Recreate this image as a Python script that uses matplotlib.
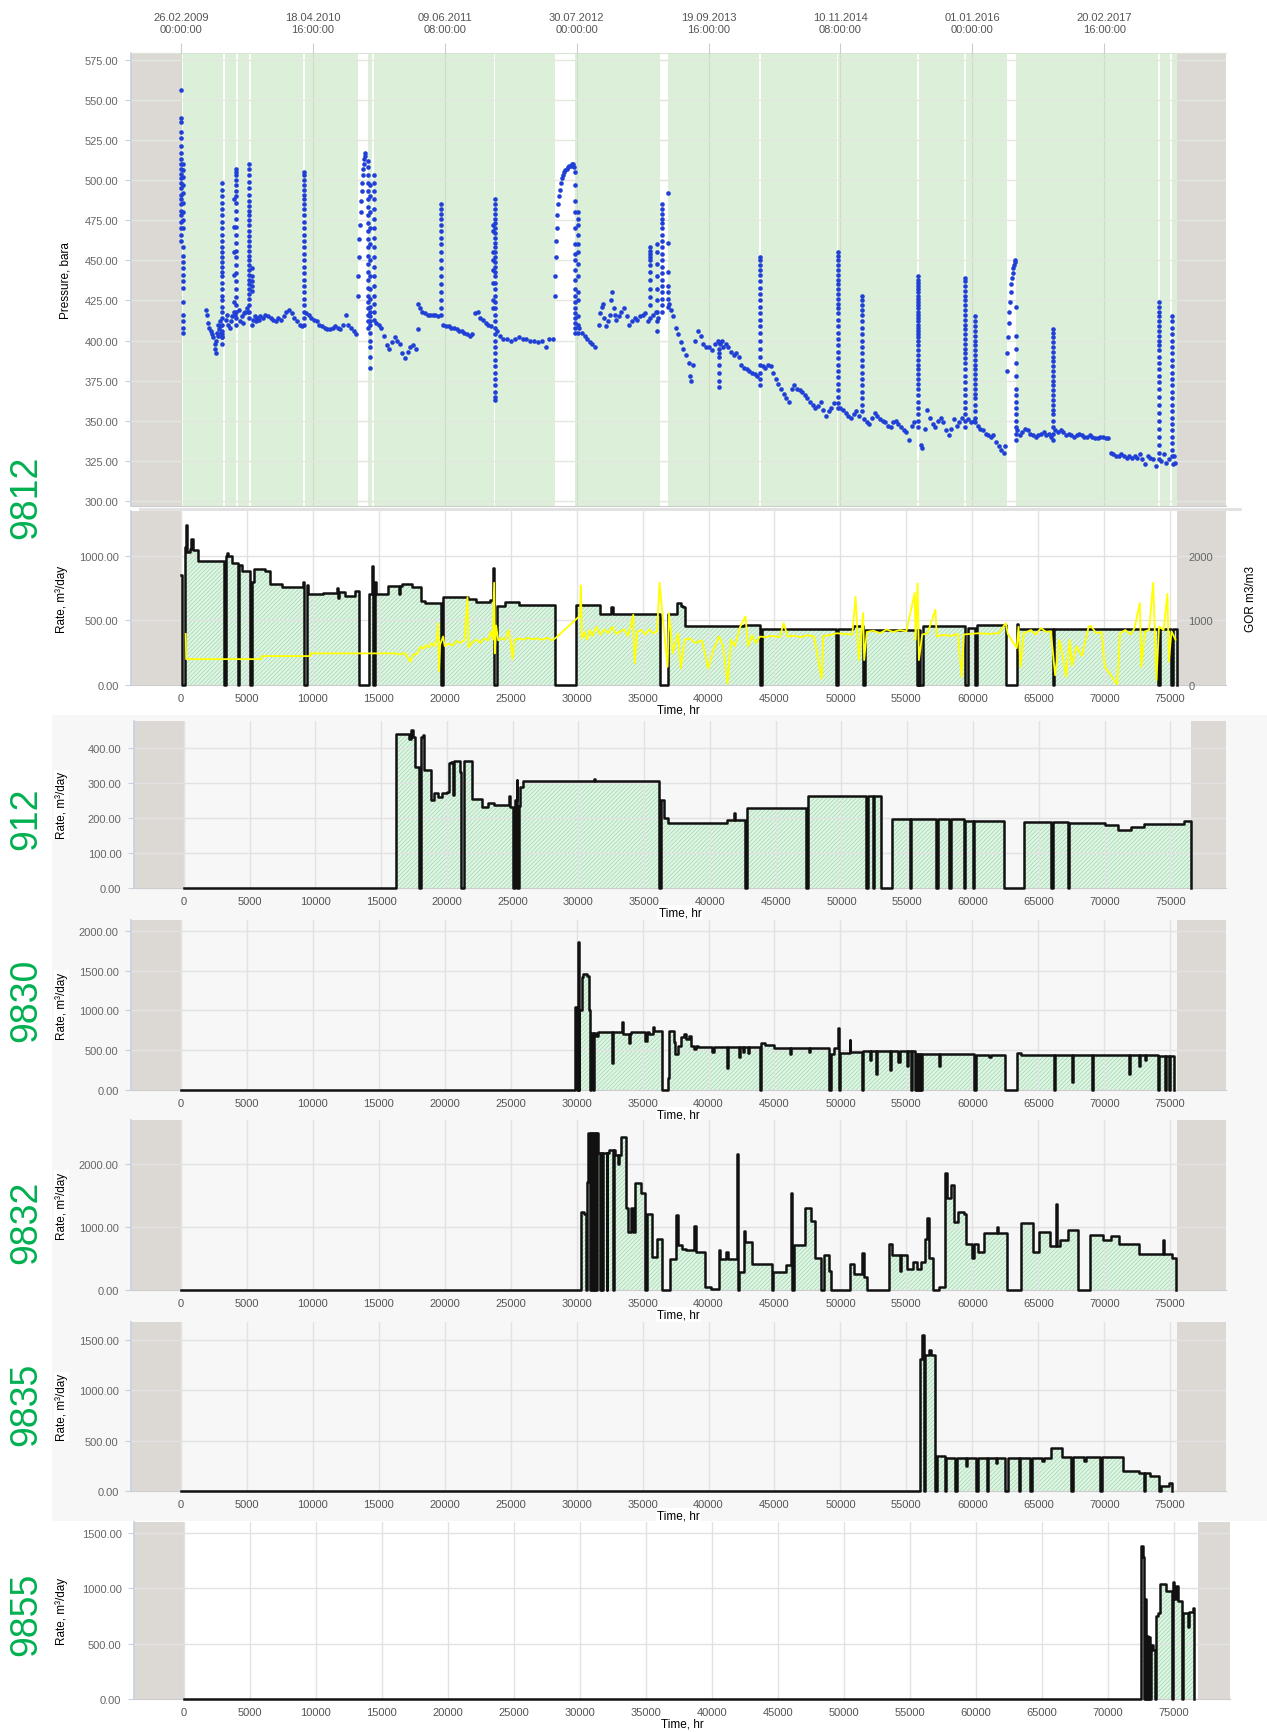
import numpy as np
import matplotlib
matplotlib.use('Agg')
import matplotlib.pyplot as plt
from matplotlib.patches import Rectangle
from matplotlib.lines import Line2D

# ---------------- DATA ----------------
date_tick_hr = [0, 10000, 20000, 30000, 40000, 50000, 60000, 70000]
date_tick_labels = ["26.02.2009\n00:00:00", "18.04.2010\n16:00:00", "09.06.2011\n08:00:00",
                    "30.07.2012\n00:00:00", "19.09.2013\n16:00:00", "10.11.2014\n08:00:00",
                    "01.01.2016\n00:00:00", "20.02.2017\n16:00:00"]

# shut-in periods of well 9812 (white gaps in the pressure panel), hr
shutin_hr = [(0, 180), (3200, 3330), (4200, 4320), (5180, 5300), (9280, 9420),
             (13450, 14170), (14520, 14640), (23720, 23850), (28370, 29850),
             (36330, 36950), (43850, 43960), (49740, 49850), (55830, 55960),
             (59400, 59520), (62600, 63300), (74080, 74200), (75000, 75110)]

# flowing pressure, (hr, bara)
pressure_flow = [
    (1880, 419), (1950, 416), (2050, 411), (2150, 408), (2250, 406), (2350, 404), (2450, 402),
    (2550, 398), (2600, 395), (2650, 392), (2700, 400), (2750, 405), (2800, 410), (2850, 403),
    (2900, 407), (2950, 412), (3000, 409), (3050, 405), (3100, 402), (3150, 404),
    (3400, 413), (3500, 416), (3600, 410), (3700, 408), (3800, 412), (3900, 415), (4000, 418), (4100, 416),
    (4400, 419), (4500, 412), (4600, 415), (4700, 411), (4800, 417), (4900, 418), (5000, 420), (5100, 418),
    (5400, 410), (5500, 413), (5600, 415), (5700, 412), (5800, 414), (5900, 413), (6000, 415), (6200, 414),
    (6400, 416), (6600, 415), (6800, 414), (7000, 413), (7200, 412), (7400, 414), (7600, 413), (7800, 415),
    (8000, 418), (8200, 419), (8400, 417), (8600, 414), (8800, 412), (9000, 410), (9200, 409),
    (9500, 417), (9700, 416), (9900, 414), (10100, 413), (10300, 412), (10500, 410), (10700, 409),
    (10900, 408), (11100, 407), (11300, 407), (11500, 408), (11700, 409), (11900, 408), (12100, 407),
    (12300, 410), (12500, 416), (12700, 410), (12900, 408), (13100, 406), (13300, 404),
    (14800, 411), (15000, 410), (15200, 408), (15400, 403), (15600, 397), (15800, 395), (16000, 399),
    (16200, 402), (16400, 400), (16600, 398), (16800, 392), (17000, 389), (17200, 393), (17400, 396),
    (17600, 397), (17800, 395),
    (17950, 407), (18000, 423), (18100, 420), (18300, 418), (18500, 417), (18700, 416), (18900, 416),
    (19100, 416), (19300, 416), (19500, 415),
    (19900, 410), (20100, 409), (20300, 409), (20500, 408), (20700, 408), (20900, 407), (21100, 406),
    (21300, 406), (21500, 405), (21700, 404), (21900, 403), (22100, 404), (22300, 417), (22500, 418),
    (22700, 414), (22900, 413), (23100, 411), (23300, 410), (23500, 409),
    (24000, 406), (24200, 403), (24400, 401), (24700, 401), (25000, 400), (25300, 401), (25600, 402),
    (25900, 401), (26200, 401), (26500, 400), (26800, 400), (27100, 399), (27400, 400), (27700, 396),
    (27900, 401), (28200, 401),
    (30200, 408), (30400, 405), (30600, 403), (30800, 401), (31000, 399), (31200, 398), (31400, 396),
    (31700, 410), (31800, 417), (31900, 421), (32000, 423), (32100, 414), (32200, 409), (32400, 412),
    (32500, 416), (32600, 425), (32700, 430), (32800, 420), (32900, 416), (33000, 413), (33200, 415),
    (33400, 418), (33600, 420), (33800, 415), (34000, 410), (34200, 412), (34400, 414), (34600, 413),
    (34800, 415), (35000, 416), (35200, 417), (35400, 412), (35600, 414), (35800, 416), (36000, 418),
    (36200, 414),
    (37000, 423), (37150, 419), (37300, 415), (37500, 408), (37700, 404), (37900, 399), (38100, 395),
    (38300, 391), (38500, 386), (38600, 378), (38700, 375), (38800, 385), (39000, 400), (39200, 406),
    (39400, 403), (39600, 398), (39800, 396), (40000, 396), (40300, 394), (40500, 398), (40700, 400),
    (40800, 392), (40900, 398), (41000, 400), (41100, 396), (41300, 398), (41500, 396), (41700, 393),
    (41900, 391), (42100, 392), (42300, 390), (42500, 385), (42700, 383), (42900, 382), (43100, 381),
    (43300, 380), (43500, 379), (43700, 378),
    (44100, 384), (44300, 383), (44500, 385), (44700, 384), (44900, 380), (45100, 376), (45300, 373),
    (45500, 370), (45700, 367), (45900, 364), (46100, 362), (46300, 370), (46500, 372), (46700, 370),
    (46900, 369), (47100, 368), (47300, 366), (47500, 364), (47700, 362), (47900, 360), (48100, 358),
    (48300, 359), (48500, 362), (48700, 357), (48900, 353), (49100, 356), (49300, 358), (49500, 361),
    (50000, 358), (50200, 357), (50400, 355), (50600, 353), (50800, 352), (51000, 354), (51200, 356),
    (51400, 353), (51800, 351), (52000, 349), (52200, 348), (52400, 352), (52600, 355), (52800, 353),
    (53000, 351), (53200, 350), (53400, 349), (53600, 347), (53800, 346), (54000, 349), (54200, 350),
    (54400, 348), (54600, 346), (54800, 344), (55000, 343), (55200, 338), (55400, 347), (55600, 349),
    (56100, 335), (56200, 333), (56400, 345), (56600, 357), (56800, 352), (57000, 348), (57200, 346),
    (57400, 350), (57600, 352), (57800, 349), (58000, 344), (58200, 341), (58400, 345), (58600, 351),
    (58800, 347), (59000, 349), (59200, 352),
    (59700, 351), (59900, 349), (60100, 350), (60400, 347), (60600, 345), (60800, 344), (61000, 342),
    (61200, 341), (61400, 340), (61600, 341), (61800, 337), (62000, 334), (62200, 332), (62400, 330),
    (62500, 334),
    (63400, 344), (63600, 341), (63800, 343), (64000, 345), (64200, 344), (64400, 342), (64600, 341),
    (64800, 340), (65000, 341), (65200, 342), (65400, 343), (65600, 341), (65800, 342), (66000, 340),
    (66300, 344), (66500, 343), (66700, 344), (66900, 343), (67100, 341), (67300, 342), (67500, 341),
    (67700, 340), (67900, 341), (68100, 342), (68300, 341), (68500, 340), (68700, 340), (68900, 341),
    (69100, 340), (69300, 339), (69500, 339), (69700, 340), (69900, 340), (70100, 339), (70300, 339),
    (70500, 330), (70700, 329), (70900, 328), (71100, 328), (71300, 329), (71500, 328), (71700, 327),
    (71900, 328), (72100, 327), (72300, 328), (72500, 327), (72700, 329), (72900, 326), (73100, 323),
    (73300, 328), (73500, 327), (73700, 326), (73900, 322),
    (74300, 325), (74500, 329), (74700, 324), (74900, 326), (75200, 323), (75300, 328), (75400, 324)]

# build-up / drawdown streaks: one time (hr) and the pressures read along it (bara)
streak_hr = [30, 180, 3150, 4050, 4200, 5200, 5380, 9300, 14150, 14350, 14650, 19700, 23650, 23800,
             29900, 30100, 35600, 36100, 36450, 36950, 40770, 43900, 49780, 51600, 55900, 59450,
             60200, 63300, 66100, 74130, 75100]
streak_bar = [
    [556, 539, 536, 530, 526, 521, 517, 513, 510, 507, 504, 501, 498, 495, 491, 488, 485, 481, 478, 474, 470, 466, 462],
    [510, 506, 502, 497, 492, 486, 480, 475, 470, 458, 453, 449, 445, 441, 437, 433, 424, 416, 412, 408, 405],
    [498, 494, 490, 486, 482, 478, 474, 470, 466, 462, 458, 455, 452, 449, 446, 443, 440, 436, 432, 428, 425, 421, 418, 414, 410, 406, 402, 398],
    [488, 471, 455, 441, 424],
    [507, 505, 503, 500, 497, 493, 490, 486, 481, 476, 471, 466, 461, 456, 452, 447, 442, 437, 432, 427, 422, 418, 414, 410],
    [510, 507, 503, 499, 495, 491, 487, 484, 481, 478, 475, 472, 468, 465, 462, 459, 456, 453, 450, 447, 444, 441, 438, 435, 432, 429, 426, 422, 418, 414],
    [445, 440, 437, 434, 431],
    [505, 503, 500, 497, 494, 491, 488, 485, 482, 478, 474, 470, 466, 462, 458, 454, 450, 446, 442, 438, 434, 430, 426, 422, 418, 414, 410],
    [512, 508, 503, 498, 493, 488, 483, 478, 473, 468, 463, 458, 453, 448, 443, 438, 433, 428, 424, 420, 416, 412, 408],
    [497, 490, 480, 470, 460, 450, 440, 432, 426, 421, 418, 415, 412, 410, 405, 400, 396, 390, 383],
    [503, 498, 493, 488, 482, 476, 470, 464, 458, 452, 446, 440, 434, 428, 423, 418, 413],
    [485, 482, 479, 476, 472, 468, 464, 460, 455, 450, 445, 440, 435, 430, 425, 420, 416],
    [472, 468, 455, 450, 444, 436, 425, 420],
    [488, 485, 482, 479, 476, 473, 470, 467, 464, 461, 458, 455, 452, 449, 446, 443, 440, 436, 432, 428, 424, 420, 416, 412, 408, 404, 400, 396, 392, 388, 384, 380, 376, 372, 368, 365, 363],
    [505, 497, 487, 480, 470, 460, 454, 450, 444, 438, 432, 428, 424, 420, 417, 414, 411, 408, 405],
    [480, 476, 472, 466, 460, 455, 448, 440, 430, 425, 415, 410, 405],
    [458, 456, 454, 452, 450, 447, 443, 438, 432, 427, 422],
    [460, 455, 448, 440, 432, 425, 418, 412, 406],
    [485, 482, 479, 476, 473, 470, 466, 462, 458, 454, 450, 446, 442, 438, 434, 430, 426, 422, 418],
    [492, 461, 443, 434, 430, 426, 421],
    [399, 395, 390, 385, 380, 375, 371],
    [452, 450, 447, 444, 441, 437, 433, 429, 425, 421, 417, 413, 409, 405, 400, 395, 390, 385, 380, 376, 372],
    [455, 453, 450, 447, 444, 441, 438, 435, 432, 429, 426, 423, 420, 417, 413, 409, 405, 401, 397, 393, 389, 385, 381, 377, 373, 369, 365, 361, 358],
    [428, 425, 422, 419, 416, 412, 408, 404, 400, 396, 392, 388, 384, 380, 376, 372, 368, 364, 360, 356],
    [440, 438, 436, 434, 432, 430, 428, 426, 424, 422, 420, 418, 416, 414, 412, 410, 408, 406, 404, 402, 400, 397, 394, 391, 388, 385, 382, 379, 376, 373, 370, 366, 362, 358, 354, 350, 346],
    [439, 437, 434, 431, 428, 425, 422, 419, 416, 413, 410, 407, 404, 401, 398, 395, 392, 389, 386, 382, 378, 374, 370, 366, 362, 358, 354, 350, 346],
    [415, 412, 409, 406, 403, 400, 397, 394, 391, 388, 385, 382, 379, 376, 373, 370, 367, 364, 360, 356, 352, 349],
    [421, 403, 395, 386, 378, 370, 366, 362, 358, 354, 350, 346, 342, 338],
    [407, 405, 402, 399, 396, 393, 390, 387, 384, 381, 378, 375, 372, 369, 366, 363, 360, 357, 354, 350, 346, 342, 338],
    [424, 421, 418, 415, 412, 409, 406, 403, 400, 397, 394, 390, 386, 382, 378, 374, 370, 365, 360, 355, 350, 345, 340, 335, 330, 326],
    [415, 412, 408, 404, 400, 396, 392, 388, 384, 380, 376, 372, 368, 364, 360, 356, 352, 348, 344, 340, 336, 332, 328]]

# curved build-ups during long shut-ins, (hr, bara)
buildup_curve = [
    (13420, 428), (13460, 440), (13500, 452), (13540, 463), (13580, 472), (13620, 480), (13660, 487),
    (13700, 493), (13740, 498), (13780, 503), (13820, 507), (13860, 510), (13900, 513), (13940, 515),
    (13980, 517),
    (28350, 428), (28380, 440), (28420, 452), (28460, 462), (28500, 470), (28550, 478), (28600, 485),
    (28650, 490), (28720, 494), (28800, 498), (28880, 501), (28960, 503), (29050, 505), (29150, 506),
    (29250, 507), (29350, 508), (29450, 509), (29550, 509), (29650, 510), (29750, 510), (29830, 508),
    (62600, 381), (62650, 392), (62700, 402), (62750, 411), (62800, 418), (62850, 424), (62900, 430),
    (62950, 435), (63000, 439), (63050, 442), (63100, 445), (63150, 447), (63200, 449), (63250, 450)]

# oil rates, step breakpoints (hr, m3/day)
rate_9812 = [(0, 850), (100, 0), (300, 1070), (400, 1240), (500, 1030), (700, 1050), (800, 1130), (900, 1040),
             (1300, 960), (3250, 0), (3400, 1000), (3500, 1020), (3600, 1000), (3870, 940), (4300, 0),
             (4430, 930), (4640, 880), (5230, 0), (5360, 800), (5540, 900), (6350, 880), (6720, 780),
             (7700, 760), (9260, 800), (9350, 0), (9570, 770), (9660, 700), (10740, 715), (11830, 750),
             (11950, 670), (12000, 720), (12450, 685), (13220, 730), (13470, 690), (13530, 0), (14240, 700),
             (14480, 920), (14560, 0), (14700, 800), (14830, 700), (15700, 768), (16560, 700), (16650, 768),
             (16780, 781), (17550, 760), (18170, 650), (18480, 632), (19720, 0), (19880, 684), (21730, 668),
             (22350, 645), (23440, 660), (23650, 908), (23750, 0), (24000, 611), (24610, 645), (25600, 616),
             (28390, 0), (29940, 616), (31800, 546), (32600, 600), (32750, 546), (36290, 0), (36950, 546),
             (37640, 637), (37950, 610), (38050, 600), (38200, 454), (42700, 462), (43890, 0), (44050, 436),
             (49680, 0), (49840, 433), (50930, 455), (51720, 0), (51880, 423), (55790, 0), (55850, 423),
             (55900, 0), (55950, 423), (56000, 0), (56260, 454), (59470, 0), (59700, 444), (60170, 0),
             (60330, 460), (62520, 0), (63370, 475), (63460, 436), (66120, 0), (66200, 431), (74100, 0),
             (74250, 431), (75030, 0), (75250, 431), (75490, 0)]

# gas-oil ratio of 9812, (hr, m3/m3)
gor_9812 = [(370, 790), (400, 400), (6100, 400), (6150, 447), (9800, 447), (9850, 489), (16300, 489),
            (16600, 470), (16900, 495), (17100, 460), (17400, 359), (17600, 470), (17900, 480), (18170, 593),
            (18400, 560), (18600, 620), (18800, 580), (19000, 650), (19200, 600), (19400, 700), (19500, 957),
            (19570, 218), (19650, 620), (19880, 749), (20000, 600), (20300, 640), (20600, 610), (20900, 680),
            (21200, 650), (21500, 700), (21730, 1357), (21800, 580), (22100, 660), (22400, 700), (22700, 650),
            (23000, 720), (23300, 690), (23500, 827), (23650, 700), (23750, 1581), (23800, 489), (23900, 920),
            (24060, 690), (24300, 720), (24600, 700), (24830, 853), (25000, 680), (25140, 400), (25300, 700),
            (25700, 720), (26000, 700), (26300, 730), (26600, 707), (27000, 720), (27400, 700), (27800, 730),
            (28100, 690), (28390, 723), (30250, 1071), (30320, 1539), (30400, 723), (30600, 820), (30800, 700),
            (31000, 853), (31200, 760), (31500, 900), (31800, 780), (32100, 860), (32400, 800), (32700, 900),
            (33000, 790), (33300, 827), (33600, 860), (33900, 760), (34300, 1087), (34400, 333), (34600, 820),
            (34900, 850), (35200, 780), (35500, 860), (35800, 800), (36100, 830), (36290, 1581), (36600, 900),
            (36900, 281), (37000, 1113), (37300, 489), (37700, 800), (37900, 255), (38200, 700), (38600, 720),
            (39000, 650), (39500, 690), (39980, 255), (40400, 560), (40800, 750), (41100, 600), (41450, 21),
            (41700, 700), (42000, 600), (42400, 900), (42800, 1061), (43000, 600), (43300, 770), (43600, 650),
            (43900, 749), (44300, 740), (44800, 760), (45400, 740), (45700, 957), (46000, 750), (46500, 760),
            (47000, 740), (47500, 770), (48000, 750), (48580, 99), (48700, 760), (49200, 770), (49700, 800),
            (50300, 790), (50900, 780), (51150, 1362), (51400, 385), (51720, 1113), (51800, 385), (52000, 820),
            (52500, 840), (53000, 800), (53500, 860), (54000, 820), (54500, 850), (55000, 830), (55630, 1425),
            (55700, 700), (55850, 1570), (55950, 385), (56200, 780), (56600, 800), (57200, 1165), (57300, 750),
            (57800, 775), (58400, 760), (58900, 790), (59200, 125), (59350, 780), (59800, 790), (60500, 800),
            (61200, 790), (62000, 800), (62530, 957), (62690, 790), (63370, 570), (63500, 900), (63650, 280),
            (63900, 800), (64440, 850), (64800, 780), (65200, 880), (65600, 820), (65950, 830), (66280, 150),
            (66600, 700), (66900, 400), (67100, 125), (67380, 697), (67550, 300), (67900, 600), (68300, 450),
            (68820, 905), (68980, 915), (69400, 800), (69800, 820), (70040, 280), (70500, 150), (70980, 10),
            (71200, 800), (71600, 850), (72000, 780), (72300, 880), (72700, 1269), (72800, 280), (73100, 830),
            (73400, 850), (73710, 1581), (73960, 73), (74150, 905), (74500, 850), (74790, 1409), (74900, 359),
            (75100, 830), (75400, 700)]

rate_912 = [(0, 0), (16110, 440), (17130, 424), (17300, 450), (17400, 430), (17600, 346), (17900, 0),
            (18060, 430), (18200, 437), (18270, 337), (18830, 250), (19000, 270), (19300, 260), (19600, 272),
            (20000, 275), (20200, 355), (20350, 360), (20450, 265), (20550, 362), (20990, 330), (21050, 0),
            (21300, 362), (21920, 253), (22690, 232), (23150, 242), (23620, 237), (24700, 262), (24780, 230),
            (25000, 0), (25160, 250), (25300, 308), (25370, 0), (25450, 235), (25550, 289), (25770, 305),
            (31150, 310), (31300, 305), (36100, 0), (36250, 250), (36500, 200), (36800, 184), (41300, 195),
            (41800, 215), (41900, 195), (42700, 0), (42850, 228), (47300, 0), (47450, 262), (51900, 0),
            (52000, 262), (52400, 0), (52500, 262), (53000, 0), (53840, 197), (55200, 0), (55300, 197),
            (57200, 0), (57300, 197), (58200, 0), (58300, 197), (59300, 0), (59400, 192), (60000, 0),
            (60100, 192), (62360, 0), (63870, 188), (65960, 0), (66060, 188), (67200, 0), (67300, 186),
            (70000, 180), (71000, 165), (72000, 175), (73000, 182), (76000, 190), (76600, 0)]

rate_9830 = [(0, 0), (29890, 1050), (30000, 0), (30105, 1863), (30170, 0), (30200, 1000), (30400, 1425),
             (30500, 1458), (30800, 1430), (30940, 1000), (31030, 0), (31120, 717), (31250, 0), (31300, 717),
             (31500, 683), (31600, 729), (32700, 342), (32780, 729), (33450, 850), (33550, 700), (33950, 590),
             (34050, 700), (34130, 729), (35200, 617), (35300, 729), (35500, 700), (35770, 792), (35830, 737),
             (36450, 0), (36910, 150), (36980, 737), (37380, 600), (37480, 458), (37700, 550), (37900, 667),
             (38150, 700), (38300, 640), (38500, 680), (38700, 550), (38900, 510), (39080, 550), (39230, 542),
             (40300, 480), (40380, 542), (41400, 279), (41480, 542), (42300, 420), (42380, 542), (42600, 480),
             (42680, 542), (43000, 460), (43080, 542), (43880, 0), (43960, 592), (44320, 570), (44960, 529),
             (46200, 450), (46280, 529), (47600, 480), (47680, 529), (49140, 0), (49250, 450), (49500, 529),
             (49850, 779), (49900, 0), (49960, 467), (50690, 625), (50750, 479), (51620, 0), (51700, 487),
             (52230, 383), (52300, 487), (52700, 200), (52780, 487), (53780, 250), (53850, 487), (54400, 350),
             (54480, 487), (55020, 300), (55100, 487), (55330, 0), (55450, 487), (55640, 0), (55720, 458),
             (55800, 0), (55880, 458), (55950, 0), (56050, 458), (56110, 0), (56200, 458), (57500, 300),
             (57580, 458), (60130, 0), (60280, 446), (61300, 420), (61380, 446), (62450, 0), (63380, 467),
             (63680, 446), (66160, 0), (66250, 446), (67550, 100), (67630, 446), (69100, 0), (69180, 446),
             (71890, 200), (71970, 446), (72660, 300), (72740, 446), (73120, 380), (73200, 446), (74050, 0),
             (74130, 430), (74600, 0), (74680, 430), (74900, 0), (74980, 430), (75290, 0)]

rate_9832 = [(0, 0), (30320, 1241), (30560, 1200), (30720, 0), (30800, 1719), (30880, 2499), (31030, 0),
             (31090, 2499), (31190, 0), (31250, 2499), (31340, 0), (31400, 2499), (31500, 0), (31560, 2499),
             (31650, 2170), (31800, 0), (31870, 2170), (31960, 0), (32030, 2170), (32270, 0), (32340, 2170),
             (32430, 2223), (32740, 0), (32800, 2223), (32890, 2150), (33150, 2000), (33250, 2150),
             (33350, 2435), (33730, 1294), (33900, 923), (34100, 1294), (34280, 923), (34440, 1692),
             (34900, 1533), (35210, 0), (35300, 1199), (35680, 525), (36130, 817), (36450, 0), (37070, 499),
             (37530, 1188), (37690, 711), (37990, 650), (38300, 631), (38900, 1018), (39080, 605), (39700, 48),
             (40160, 21), (40780, 631), (40900, 499), (41300, 600), (41500, 499), (42170, 2154), (42270, 0),
             (42330, 286), (42700, 934), (42800, 764), (43260, 419), (44810, 0), (44900, 286), (45890, 400),
             (46260, 1544), (46350, 0), (46450, 711), (47280, 1294), (47750, 1100), (48060, 500), (48520, 0),
             (48770, 552), (49140, 300), (49300, 0), (50690, 419), (51000, 260), (51620, 589), (51750, 200),
             (51990, 0), (53720, 737), (53940, 552), (54500, 300), (54600, 552), (55020, 340), (55500, 450),
             (55800, 340), (56100, 450), (56410, 817), (56560, 1146), (56720, 500), (57030, 0), (57500, 50),
             (57960, 1851), (58100, 1454), (58420, 1666), (58580, 1082), (58890, 1241), (59350, 1200),
             (59500, 737), (59970, 500), (60130, 737), (60440, 600), (60900, 897), (61880, 1000), (61980, 897),
             (62600, 0), (63690, 1066), (64610, 600), (65080, 923), (65850, 700), (66320, 1358), (66450, 700),
             (66630, 800), (67250, 950), (68020, 0), (68950, 870), (69880, 800), (70490, 850), (71110, 727),
             (72660, 568), (74460, 800), (74560, 568), (75140, 500), (75450, 0)]

rate_9835 = [(0, 0), (56000, 1308), (56150, 1548), (56300, 0), (56400, 1352), (56700, 1400), (56850, 1352),
             (57180, 0), (57350, 349), (57900, 0), (58000, 330), (58700, 0), (58800, 330), (59500, 250),
             (59600, 330), (60300, 0), (60400, 330), (61100, 0), (61200, 330), (61800, 280), (61900, 330),
             (62500, 0), (62700, 330), (63500, 0), (63600, 330), (64400, 0), (64500, 330), (65300, 300),
             (65400, 330), (66000, 425), (66800, 340), (67500, 0), (67600, 340), (68500, 300), (68600, 340),
             (69700, 0), (69800, 340), (71400, 196), (72650, 180), (73000, 0), (73100, 180), (73500, 150),
             (74150, 0), (74300, 50), (74900, 80), (75150, 0)]

rate_9855 = [(0, 0), (72490, 1386), (72650, 1280), (72720, 0), (72810, 905), (72900, 0), (72960, 574),
             (73050, 0), (73120, 560), (73200, 0), (73270, 484), (73400, 439), (73520, 0), (73600, 754),
             (73740, 780), (73900, 1040), (74370, 980), (74830, 0), (74900, 1061), (74980, 905), (75150, 1025),
             (75300, 890), (75610, 0), (75700, 779), (76050, 649), (76140, 785), (76400, 820), (76500, 0)]

# ---------------- STYLE / LAYOUT ----------------
W, H = 1267, 1733
GRAY = '#dcd9d5'
GREEN_BG = '#dcefd8'
PANEL_BG = '#f7f7f7'
XLIM = (-3780, 79230)
plt.rcParams['font.family'] = ['Liberation Sans', 'DejaVu Sans']
plt.rcParams['hatch.linewidth'] = 0.6

fig = plt.figure(figsize=(W / 100, H / 100), dpi=100)
fig.patches.append(Rectangle((52 / W, 1 - 1522 / H), (W - 52) / W, (1522 - 716) / H,
                             transform=fig.transFigure, facecolor=PANEL_BG, edgecolor='none', zorder=-10))


def ax_px(l, t, r, b):
    return fig.add_axes([l / W, 1 - b / H, (r - l) / W, (b - t) / H])


def style_spines(ax):
    for s in ['top', 'right']:
        ax.spines[s].set_visible(False)
    ax.spines['left'].set_color('#c5d0e0')
    ax.spines['left'].set_linewidth(1.2)
    ax.spines['bottom'].set_color('#cccccc')
    for s in ax.spines.values():
        s.set_zorder(0.6)


# ---------------- PRESSURE PANEL ----------------
axp = ax_px(131, 54, 1226, 507)
axp.set_xlim(*XLIM)
axp.set_ylim(296.9, 579.2)
axp.axvspan(XLIM[0], 0, color=GRAY, lw=0, zorder=0.2)
axp.axvspan(75490, XLIM[1], color=GRAY, lw=0, zorder=0.2)
axp.axvspan(0, 75490, color=GREEN_BG, lw=0, zorder=0.2)
for s, e in shutin_hr:
    axp.axvspan(s, e, color='white', lw=0, zorder=0.3)
axp.set_yticks(np.arange(300, 576, 25))
axp.set_yticklabels([f"{v:.2f}" for v in np.arange(300, 576, 25)])
axp.set_xticks(date_tick_hr)
axp.set_xticklabels(date_tick_labels, linespacing=1.25)
axp.xaxis.tick_top()
axp.tick_params(axis='x', top=True, length=7, color='#cccccc', pad=7, labelsize=8, labelcolor='#555555')
axp.tick_params(axis='y', length=4, color='#c5d0e0', pad=5, labelsize=8, labelcolor='#666666')
axp.grid(True, axis='y', color='#e2e8de', lw=1.0, zorder=0.5)
axp.grid(True, axis='x', color='#cfdccb', lw=0.8, zorder=0.5)
style_spines(axp)
axp.spines['top'].set_visible(True)
axp.spines['top'].set_color('#d8e4d4')

ft = [p[0] for p in pressure_flow]
fp = [p[1] for p in pressure_flow]
dot = dict(ls='none', marker='o', ms=3.3, color='#1f3fd6', mec='none', zorder=3)
axp.plot(ft, fp, **dot)
for t, plist in zip(streak_hr, streak_bar):
    axp.plot([t] * len(plist), plist, **dot)
axp.plot([p[0] for p in buildup_curve], [p[1] for p in buildup_curve], **dot)
axp.set_ylabel('Pressure, bara', fontsize=8.5)
axp.yaxis.set_label_coords((72 - 131) / 1095, 0.5)

fig.add_artist(Line2D([140 / W, 1240 / W], [1 - 509.5 / H] * 2, color='#e0e0e0', lw=2))


# ---------------- RATE PANELS ----------------
def rate_panel(box, data, ymax, yticks, gray_right, bg, label_box):
    l, t, r, b = box
    ax = ax_px(l, t, r, b)
    ax.set_facecolor(bg)
    ax.set_xlim(*XLIM)
    ax.set_ylim(0, ymax)
    ax.axvspan(XLIM[0], 0, color=GRAY, lw=0, zorder=0.2)
    ax.axvspan(gray_right, XLIM[1], color=GRAY, lw=0, zorder=0.2)
    ax.set_xticks(np.arange(0, 75001, 5000))
    ax.set_xticklabels([str(v) for v in range(0, 75001, 5000)])
    ax.set_yticks(yticks)
    ax.set_yticklabels([f"{v:.2f}" for v in yticks])
    ax.grid(True, color='#e2e2e2', lw=1.0, zorder=0.5)
    ax.tick_params(axis='x', length=0, pad=6, labelsize=8, labelcolor='#555555')
    ax.tick_params(axis='y', length=4, color='#c5d0e0', pad=5, labelsize=8, labelcolor='#666666')
    style_spines(ax)
    ts = [d[0] for d in data]
    qs = [d[1] for d in data]
    ax.fill_between(ts, qs, step='post', facecolor='#e0f5e6', edgecolor='#a6dcb2',
                    hatch='////////', linewidth=0, zorder=1)
    ax.step(ts, qs, where='post', color='#111111', lw=1.8, zorder=4, clip_on=False)
    bbox = dict(facecolor='white', edgecolor='none', pad=1.0) if label_box else None
    ax.set_ylabel('Rate, m\u00b3/day', fontsize=8.5, bbox=bbox)
    ax.yaxis.set_label_coords((68 - l) / (r - l), 0.5)
    ax.set_xlabel('Time, hr', fontsize=8.5, labelpad=0, bbox=bbox)
    return ax


ax1 = rate_panel((131, 512, 1226, 686), rate_9812, 1345, [0, 500, 1000], 75490, 'white', False)
ax2 = ax1.twinx()
ax2.set_xlim(*XLIM)
ax2.set_ylim(0, 2690)
ax2.plot([g[0] for g in gor_9812], [g[1] for g in gor_9812], color='#ffff00', lw=1.3, zorder=3)
ax2.set_yticks([0, 1000, 2000])
ax2.set_yticklabels(['0', '1000', '2000'])
ax2.tick_params(axis='y', length=0, pad=-27, labelsize=8, labelcolor='#666666')
for s in ax2.spines.values():
    s.set_visible(False)
ax2.set_ylabel('GOR m3/m3', fontsize=8.5)
ax2.yaxis.set_label_coords((1245 - 131) / 1095, 0.5)

rate_panel((134, 722, 1226, 889), rate_912, 476, [0, 100, 200, 300, 400], 76600, PANEL_BG, True)
rate_panel((131, 921, 1226, 1091), rate_9830, 2138, [0, 500, 1000, 1500, 2000], 75490, PANEL_BG, True)
rate_panel((131, 1121, 1226, 1291), rate_9832, 2698, [0, 1000, 2000], 75490, PANEL_BG, True)
rate_panel((131, 1323, 1226, 1492), rate_9835, 1675, [0, 500, 1000, 1500], 75490, PANEL_BG, True)
rate_panel((134, 1523, 1230, 1700), rate_9855, 1600, [0, 500, 1000, 1500], 76780, 'white', False)

# ---------------- WELL LABELS ----------------
well_labels = [('9812', 497), ('912', 819), ('9830', 1000), ('9832', 1222), ('9835', 1404), ('9855', 1614)]
for name, yc in well_labels:
    fig.text(26 / W, 1 - yc / H, name, rotation=90, ha='center', va='center', color='#00b050',
             fontsize=27, family=['Liberation Sans Narrow', 'Liberation Sans', 'DejaVu Sans'])

fig.savefig('out.png', dpi=100)
